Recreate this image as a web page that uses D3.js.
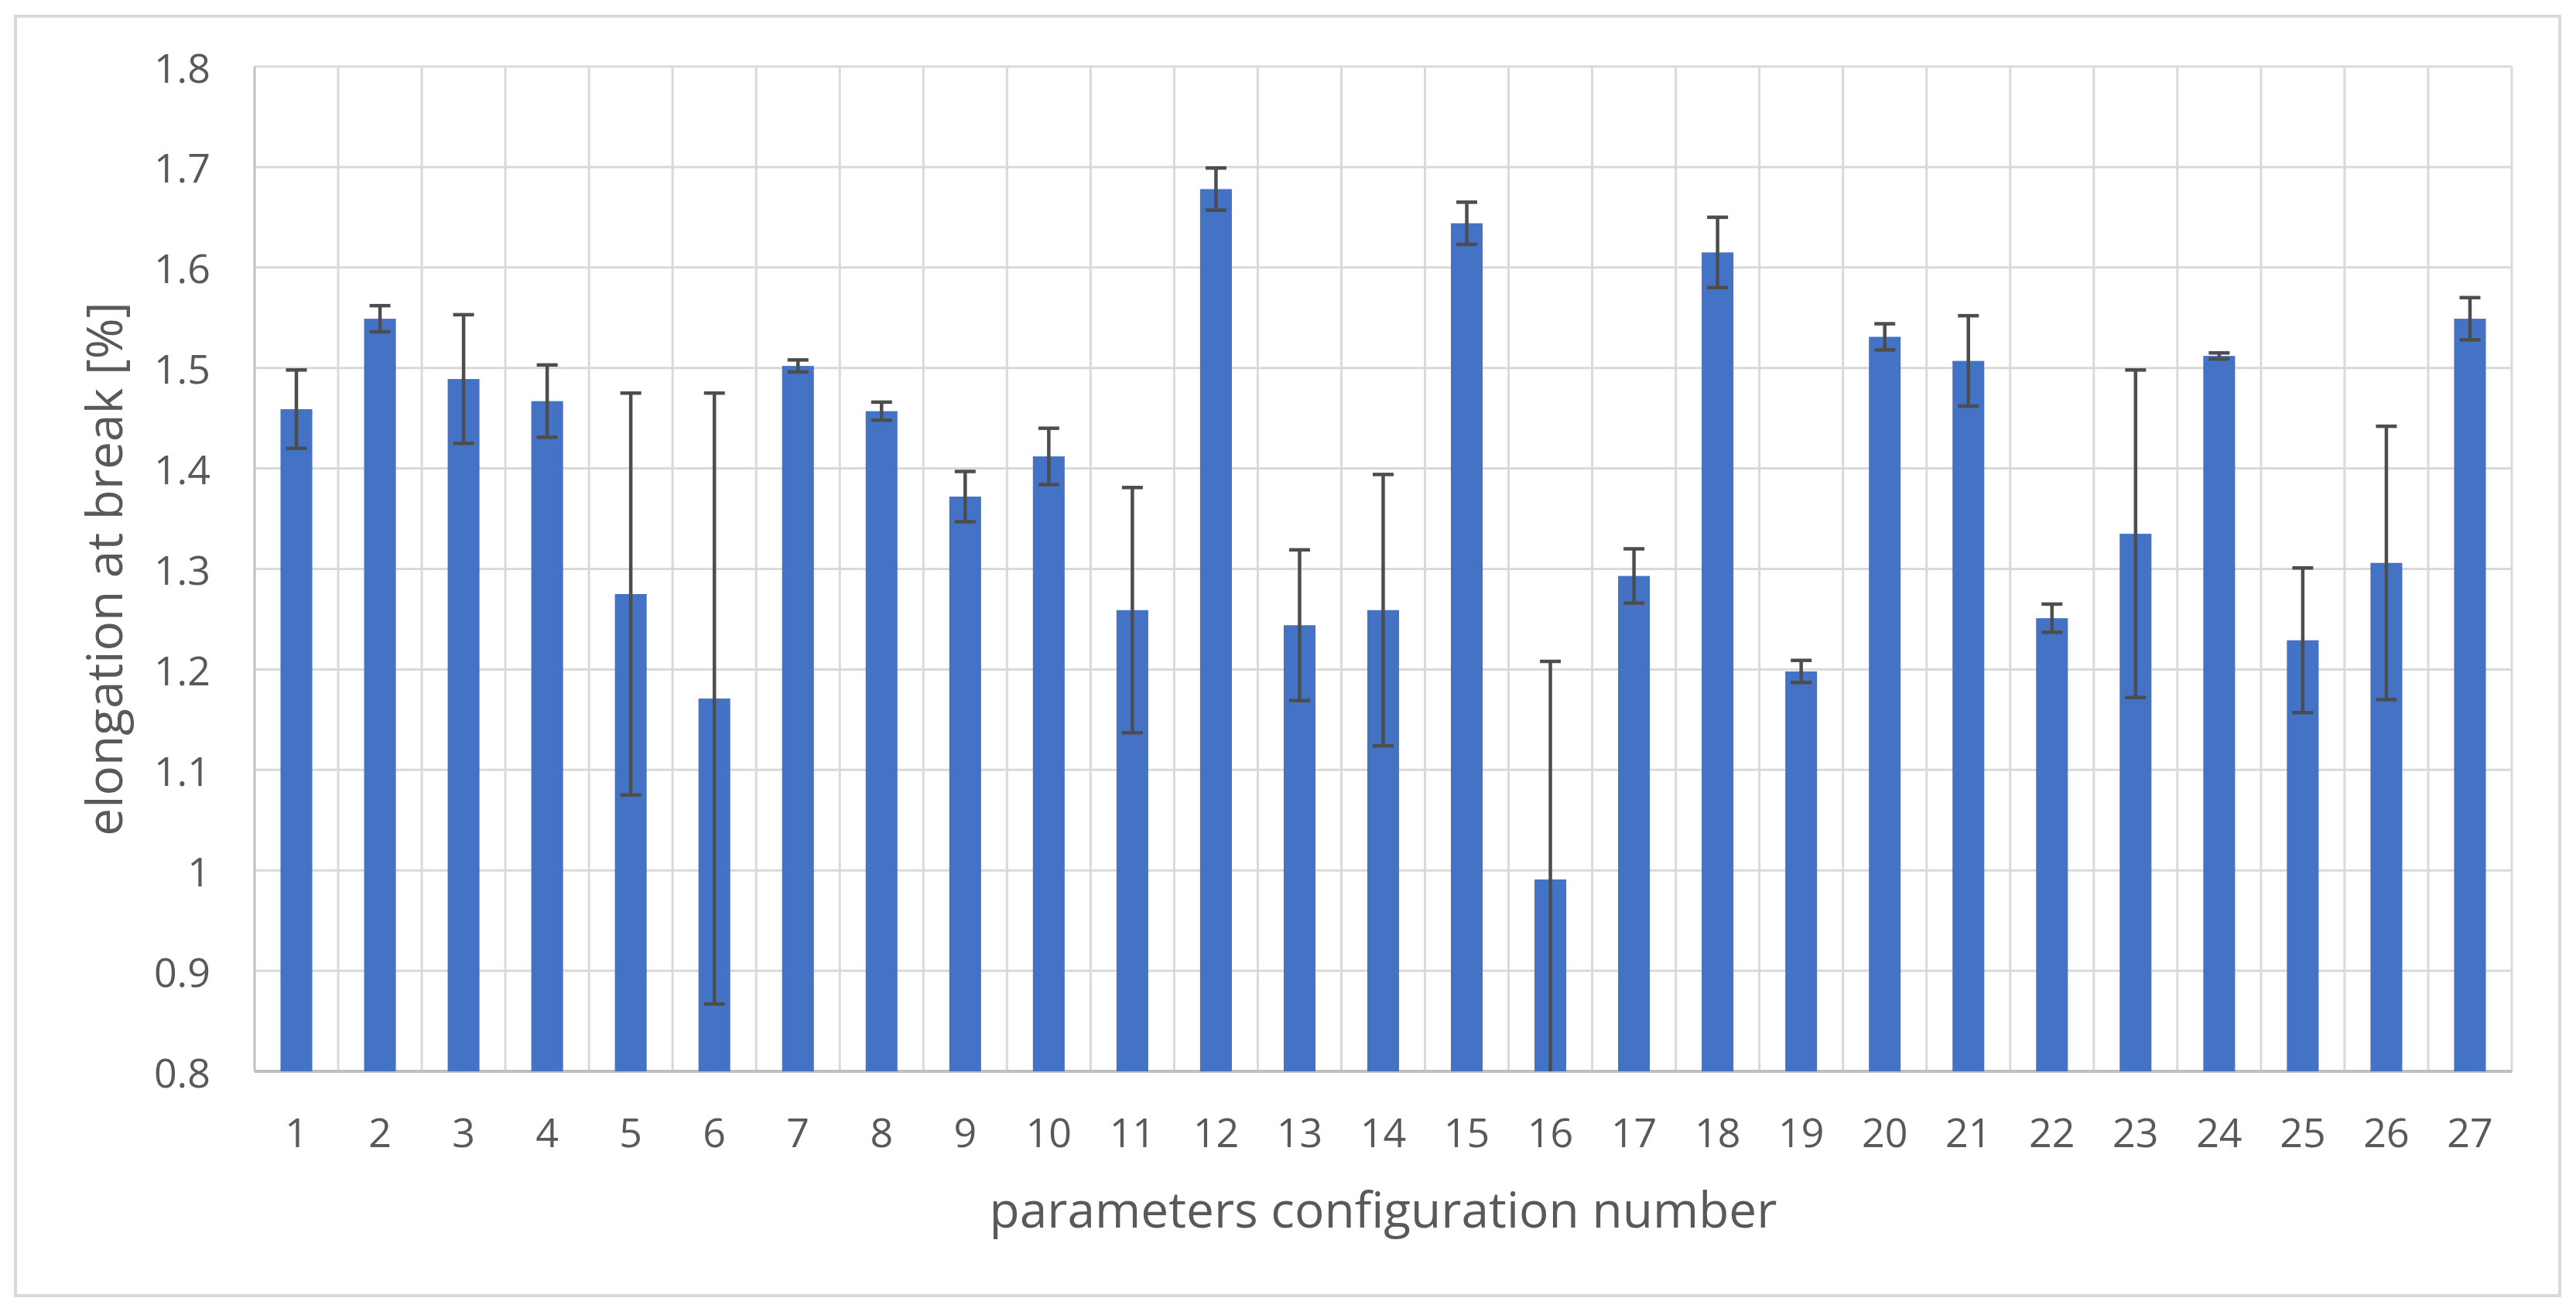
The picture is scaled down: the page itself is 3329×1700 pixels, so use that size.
<!DOCTYPE html>
<html>
<head>
<meta charset="utf-8">
<script src="https://cdn.jsdelivr.net/npm/d3@7"></script>
<style>
  html, body { margin: 0; padding: 0; background: #ffffff; }
  svg { display: block; }
  text { font-family: "Open Sans", "Noto Sans", sans-serif; fill: #595959; }
</style>
</head>
<body>
<svg id="chart" width="3329" height="1700"></svg>
<script>
// ---- data ----
const categories = ["1","2","3","4","5","6","7","8","9","10","11","12","13","14","15","16","17","18","19","20","21","22","23","24","25","26","27"];
const values = [1.459, 1.549, 1.489, 1.467, 1.275, 1.171, 1.502, 1.457, 1.372, 1.412, 1.259, 1.678, 1.244, 1.259, 1.644, 0.991, 1.293, 1.615, 1.198, 1.531, 1.507, 1.251, 1.335, 1.512, 1.229, 1.306, 1.549];
const errors = [0.039, 0.013, 0.064, 0.036, 0.200, 0.304, 0.006, 0.009, 0.025, 0.028, 0.122, 0.021, 0.075, 0.135, 0.021, 0.217, 0.027, 0.035, 0.011, 0.013, 0.045, 0.014, 0.163, 0.003, 0.072, 0.136, 0.021];
const yTicks = [0.8, 0.9, 1.0, 1.1, 1.2, 1.3, 1.4, 1.5, 1.6, 1.7, 1.8];
const yTickLabels = ["0.8", "0.9", "1", "1.1", "1.2", "1.3", "1.4", "1.5", "1.6", "1.7", "1.8"];
const xTitle = "parameters configuration number";
const yTitle = "elongation at break [%]";

// ---- layout ----
const W = 3329, H = 1700;
const plot = { left: 329, right: 3246, top: 86, bottom: 1385 };
const svg = d3.select("#chart");

svg.append("rect").attr("x", 0).attr("y", 0).attr("width", W).attr("height", H).attr("fill", "#ffffff");
svg.append("rect")
  .attr("x", 20).attr("y", 21).attr("width", 3288).attr("height", 1654)
  .attr("fill", "none").attr("stroke", "#d9d9d9").attr("stroke-width", 4);

const x = d3.scaleBand().domain(categories).range([plot.left, plot.right]).padding(0);
const y = d3.scaleLinear().domain([0.8, 1.8]).range([plot.bottom, plot.top]);

// horizontal gridlines
svg.append("g").selectAll("line").data(yTicks.slice(1)).join("line")
  .attr("x1", plot.left).attr("x2", plot.right)
  .attr("y1", d => y(d)).attr("y2", d => y(d))
  .attr("stroke", "#d9d9d9").attr("stroke-width", 3);

// vertical gridlines at category boundaries
const bounds = categories.map(c => x(c)).concat([plot.right]).slice(1);
svg.append("g").selectAll("line").data(bounds).join("line")
  .attr("x1", d => d).attr("x2", d => d)
  .attr("y1", plot.top).attr("y2", plot.bottom)
  .attr("stroke", "#d9d9d9").attr("stroke-width", 3);

// axis lines
svg.append("line").attr("x1", plot.left).attr("x2", plot.left).attr("y1", plot.top).attr("y2", plot.bottom)
  .attr("stroke", "#bfbfbf").attr("stroke-width", 3);
svg.append("line").attr("x1", plot.left).attr("x2", plot.right).attr("y1", plot.bottom).attr("y2", plot.bottom)
  .attr("stroke", "#bfbfbf").attr("stroke-width", 4);

// bars
const barW = x.bandwidth() * 0.38;
svg.append("g").selectAll("rect").data(categories).join("rect")
  .attr("x", (c) => x(c) + (x.bandwidth() - barW) / 2)
  .attr("y", (c, i) => y(values[i]))
  .attr("width", barW)
  .attr("height", (c, i) => plot.bottom - y(values[i]))
  .attr("fill", "#4472c4");

// error bars
const capW = 27;
const eg = svg.append("g").attr("stroke", "#4d4d4d").attr("stroke-width", 4.5);
categories.forEach((c, i) => {
  const cx = x(c) + x.bandwidth() / 2;
  const hi = values[i] + errors[i];
  const lo = values[i] - errors[i];
  const yHi = y(hi);
  const yLo = Math.min(y(lo), plot.bottom);
  eg.append("line").attr("x1", cx).attr("x2", cx).attr("y1", yHi).attr("y2", yLo);
  eg.append("line").attr("x1", cx - capW / 2).attr("x2", cx + capW / 2).attr("y1", yHi).attr("y2", yHi);
  if (lo >= 0.8) {
    eg.append("line").attr("x1", cx - capW / 2).attr("x2", cx + capW / 2).attr("y1", y(lo)).attr("y2", y(lo));
  }
});

// y tick labels
svg.append("g").selectAll("text").data(yTicks).join("text")
  .attr("x", 272).attr("y", d => y(d))
  .attr("text-anchor", "end").attr("dominant-baseline", "central")
  .attr("font-size", 52)
  .text((d, i) => yTickLabels[i]);

// x tick labels
svg.append("g").selectAll("text").data(categories).join("text")
  .attr("x", c => x(c) + x.bandwidth() / 2).attr("y", 1483)
  .attr("text-anchor", "middle")
  .attr("font-size", 52)
  .text(c => c);

// axis titles
svg.append("text")
  .attr("x", (plot.left + plot.right) / 2).attr("y", 1587)
  .attr("text-anchor", "middle").attr("font-size", 64)
  .text(xTitle);

svg.append("text")
  .attr("transform", `translate(158, ${(plot.top + plot.bottom) / 2}) rotate(-90)`)
  .attr("text-anchor", "middle").attr("font-size", 64)
  .text(yTitle);
</script>
</body>
</html>
